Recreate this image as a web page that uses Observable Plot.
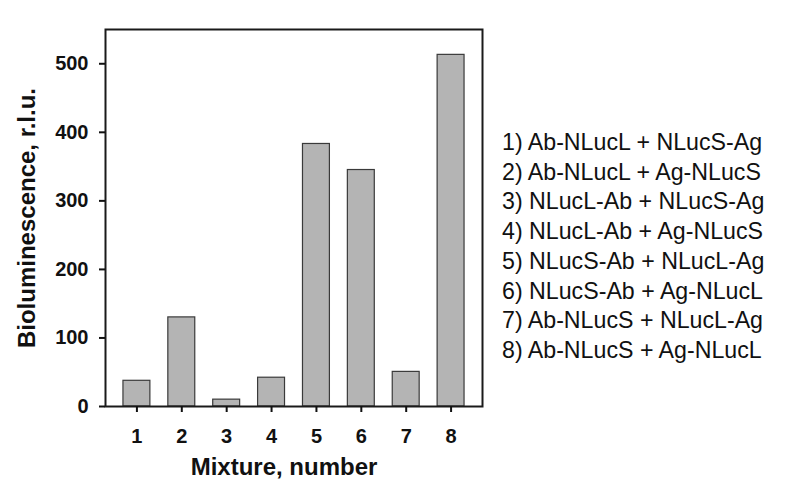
<!DOCTYPE html>
<html>
<head>
<meta charset="utf-8">
<script src="https://cdn.jsdelivr.net/npm/d3@7"></script>
<script src="https://cdn.jsdelivr.net/npm/@observablehq/plot@0.6"></script>
<style>
  html, body { margin: 0; padding: 0; background: #fff; }
  #wrap { position: relative; width: 786px; height: 495px; }
  #legend { position: absolute; left: 502px; top: 128px; font-family: "Liberation Sans", Arial, sans-serif; font-size: 23.2px; line-height: 29.7px; color: #111; white-space: nowrap; }
</style>
</head>
<body>
<div id="wrap"><div id="legend"></div></div>
<script>
const mixtures = [1, 2, 3, 4, 5, 6, 7, 8];
const luminescence = [37.5, 130, 10, 42, 383, 345, 50.5, 513];
const yTicks = [0, 100, 200, 300, 400, 500];
const legendLabels = [
  "1) Ab-NLucL + NLucS-Ag",
  "2) Ab-NLucL + Ag-NLucS",
  "3) NLucL-Ab + NLucS-Ag",
  "4) NLucL-Ab + Ag-NLucS",
  "5) NLucS-Ab + NLucL-Ag",
  "6) NLucS-Ab + Ag-NLucL",
  "7) Ab-NLucS + NLucL-Ag",
  "8) Ab-NLucS + Ag-NLucL"
];
const xTitle = "Mixture, number";
const yTitle = "Bioluminescence, r.l.u.";

const data = mixtures.map((n, i) => ({n, v: luminescence[i]}));
const halfBar = 0.3;

const chart = Plot.plot({
  width: 786,
  height: 495,
  marginLeft: 105,
  marginTop: 29,
  marginRight: 304,
  marginBottom: 89,
  style: {fontFamily: "'Liberation Sans', Arial, sans-serif", fontSize: "20px", fontWeight: "bold", color: "#111", background: "#fff"},
  x: {domain: [0.3, 8.7]},
  y: {domain: [0, 550]},
  marks: [
    Plot.rectY(data, {x1: d => d.n - halfBar, x2: d => d.n + halfBar, y: "v", fill: "#b4b4b4", stroke: "#3a3a3a", strokeWidth: 1.2}),
    Plot.frame({stroke: "#1a1a1a", strokeWidth: 2}),
    Plot.axisX({ticks: mixtures, tickFormat: () => "", tickSize: 6, strokeWidth: 2, label: null}),
    Plot.axisY({ticks: yTicks, tickFormat: () => "", tickSize: 6, strokeWidth: 2, label: null}),
    Plot.text(mixtures, {x: d => d, frameAnchor: "bottom", lineAnchor: "middle", dy: 30, text: d => String(d), fontSize: 20, fontWeight: "bold", fill: "#111"}),
    Plot.text(yTicks, {y: d => d, frameAnchor: "left", textAnchor: "end", lineAnchor: "middle", dx: -17, text: d => String(d), fontSize: 20, fontWeight: "bold", fill: "#111"}),
    Plot.text([xTitle], {frameAnchor: "bottom", lineAnchor: "middle", dy: 61, dx: -10, fontSize: 24, fontWeight: "bold", fill: "#111"}),
    Plot.text([yTitle], {frameAnchor: "left", textAnchor: "middle", lineAnchor: "middle", dx: -78, rotate: -90, fontSize: 24, fontWeight: "bold", fill: "#111"})
  ]
});
document.getElementById("wrap").prepend(chart);
chart.style.position = "absolute";
chart.style.left = "0";
chart.style.top = "0";
document.getElementById("legend").innerHTML = legendLabels.map(t => `<div>${t}</div>`).join("");
</script>
</body>
</html>
